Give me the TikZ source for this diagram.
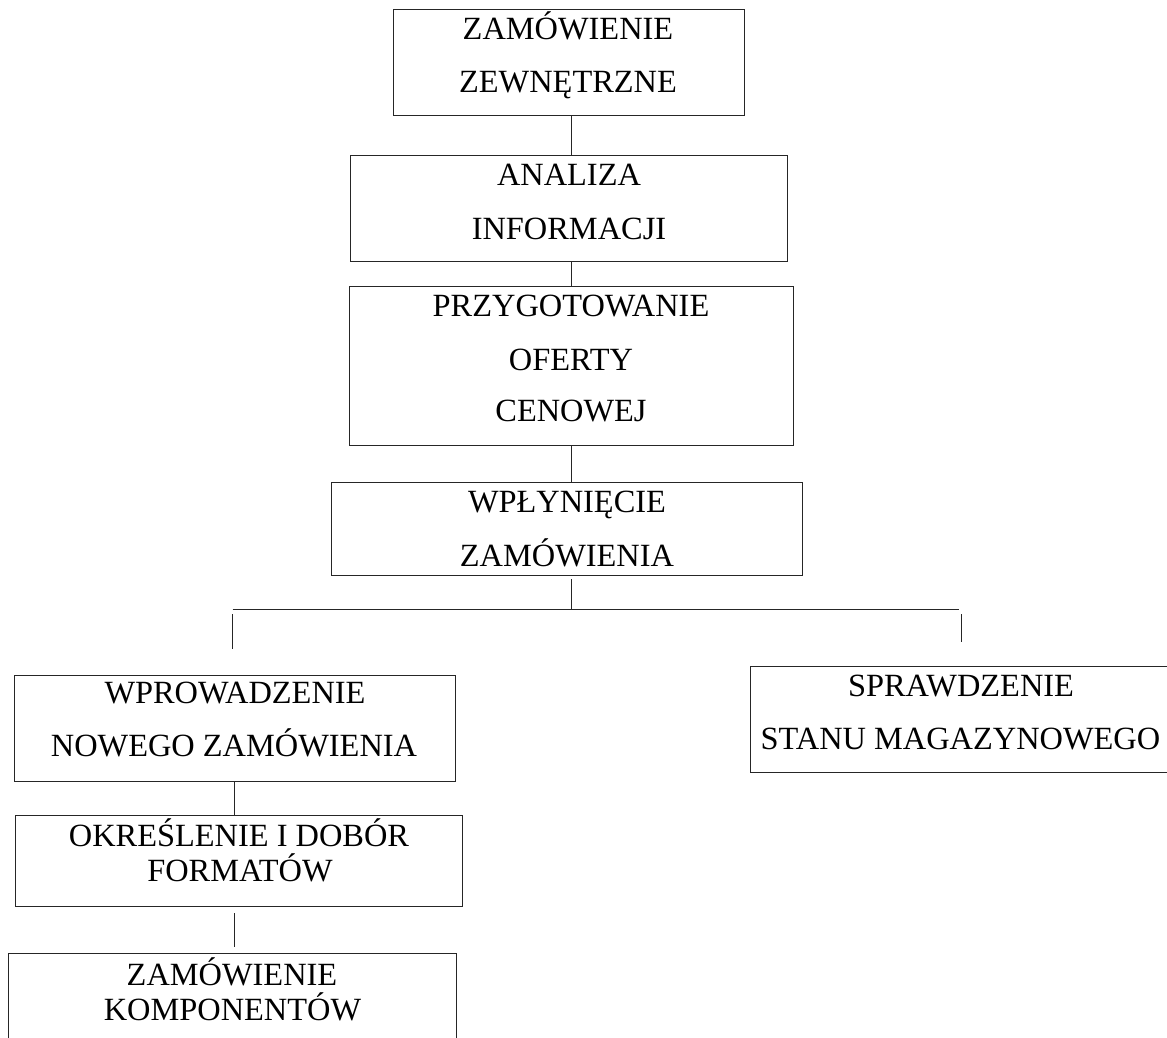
\documentclass[tikz,border=0pt]{standalone}
\usepackage{fontspec}
\setmainfont{Liberation Serif}
\begin{document}
\begin{tikzpicture}[x=1pt,y=-1pt,
  box/.style={draw=black!85,line width=1pt,rectangle,inner sep=0pt,outer sep=0pt,anchor=north west},
  lbl/.style={anchor=base,inner sep=0pt,font=\fontsize{32.4}{36}\selectfont},
  conn/.style={draw=black!85,line width=1pt}]
\clip (0,0) rectangle (1167,1038);
\fill[white] (0,0) rectangle (1167,1038);
% boxes
\node[box,minimum width=351pt,minimum height=106pt] (b1) at (393.5,10) {};
\node[box,minimum width=436.6pt,minimum height=106.4pt] (b2) at (350.7,155.3) {};
\node[box,minimum width=444.3pt,minimum height=158.3pt] (b3) at (349,286.7) {};
\node[box,minimum width=471pt,minimum height=93pt] (b4) at (331,482.3) {};
\node[box,minimum width=441.3pt,minimum height=105.7pt] (b5) at (14,675.3) {};
\node[box,minimum width=450pt,minimum height=106pt] (b6) at (750.3,666.7) {};
\node[box,minimum width=446.7pt,minimum height=90.3pt] (b7) at (15.3,815.7) {};
\node[box,minimum width=448.4pt,minimum height=120pt] (b8) at (8.3,953.3) {};
% texts
\node[lbl] (t1a) at (568,40) {ZAMÓWIENIE};
\node[lbl] (t1b) at (568,92.7) {ZEWNĘTRZNE};
\node[lbl] (t2a) at (569,185.7) {ANALIZA};
\node[lbl] (t2b) at (569,239) {INFORMACJI};
\node[lbl] (t3a) at (571,316.7) {PRZYGOTOWANIE};
\node[lbl] (t3b) at (571,370) {OFERTY};
\node[lbl] (t3c) at (571,421.7) {CENOWEJ};
\node[lbl] (t4a) at (567,512.3) {WPŁYNIĘCIE};
\node[lbl] (t4b) at (567,566) {ZAMÓWIENIA};
\node[lbl] (t5a) at (235,703.3) {WPROWADZENIE};
\node[lbl] (t5b) at (234,756.7) {NOWEGO ZAMÓWIENIA};
\node[lbl] (t6a) at (961,696) {SPRAWDZENIE};
\node[lbl] (t6b) at (960.5,749.3) {STANU MAGAZYNOWEGO};
\node[lbl] (t7a) at (239,846.7) {OKREŚLENIE I DOBÓR};
\node[lbl] (t7b) at (240,881.7) {FORMATÓW};
\node[lbl] (t8a) at (232,985) {ZAMÓWIENIE};
\node[lbl] (t8b) at (232.5,1020) {KOMPONENTÓW};
% connectors
\coordinate (spine) at (571,0);
\coordinate (hub) at (571,609);
\coordinate (hl) at (232.7,609);
\coordinate (hr) at (959.3,609);
\coordinate (l1) at (232.7,614);
\coordinate (l2) at (232.7,649.3);
\coordinate (r1) at (961,614);
\coordinate (r2) at (961,641.7);
\coordinate (ls) at (234.5,0);
\draw[conn] (b1.south -| spine) -- (b2.north -| spine);
\draw[conn] (b2.south -| spine) -- (b3.north -| spine);
\draw[conn] (b3.south -| spine) -- (b4.north -| spine);
\draw[conn] ([yshift=-4pt]b4.south -| spine) -- (hub);
\draw[conn] (hl) -- (hr);
\draw[conn] (l1) -- (l2);
\draw[conn] (r1) -- (r2);
\draw[conn] (b5.south -| ls) -- (b7.north -| ls);
\draw[conn] ([yshift=-7pt]b7.south -| ls) -- ([yshift=6pt]b8.north -| ls);
\end{tikzpicture}
\end{document}
